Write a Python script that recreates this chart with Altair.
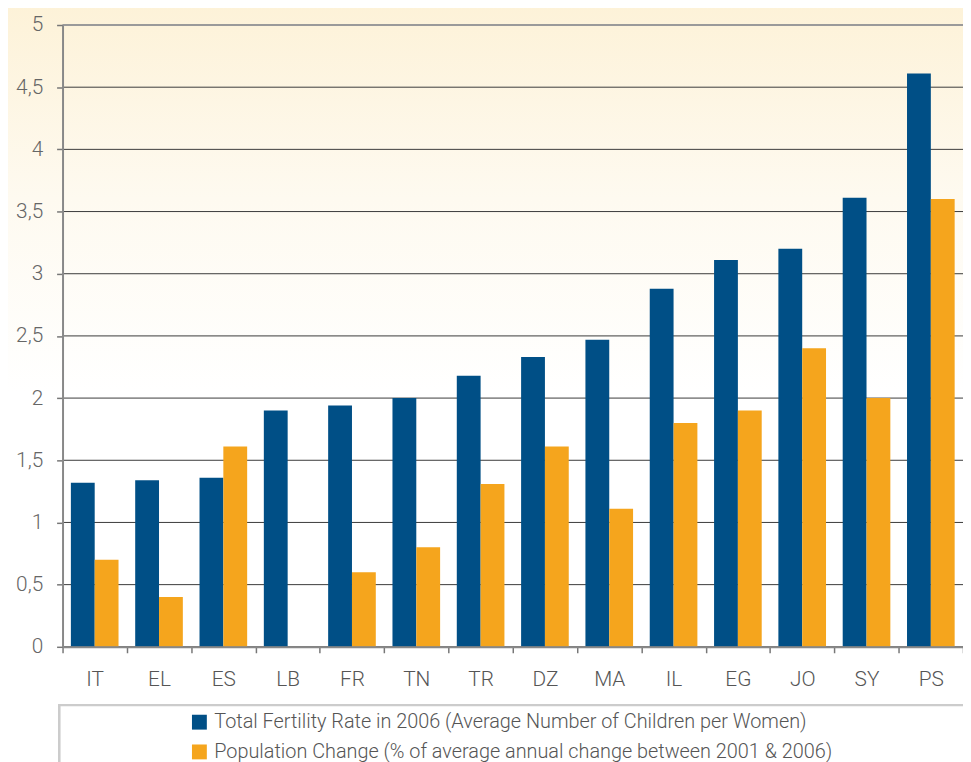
import altair as alt
import pandas as pd

countries = ["IT", "EL", "ES", "LB", "FR", "TN", "TR", "DZ", "MA", "IL", "EG", "JO", "SY", "PS"]
fertility = [1.32, 1.34, 1.36, 1.90, 1.94, 2.00, 2.18, 2.33, 2.47, 2.88, 3.11, 3.20, 3.61, 4.61]
pop_change = [0.70, 0.40, 1.61, None, 0.60, 0.80, 1.31, 1.61, 1.11, 1.80, 1.90, 2.40, 2.00, 3.60]
series = [
    "Total Fertility Rate in 2006 (Average Number of Children per Women)",
    "Population Change  (% of average annual change between 2001 & 2006)",
]
colors = ["#004f86", "#f5a51d"]
y_ticks = [0, 0.5, 1, 1.5, 2, 2.5, 3, 3.5, 4, 4.5, 5]

rows = []
for c, f, p in zip(countries, fertility, pop_change):
    rows.append({"country": c, "series": series[0], "value": f})
    if p is not None:
        rows.append({"country": c, "series": series[1], "value": p})
df = pd.DataFrame(rows)
grid_df = pd.DataFrame({"v": y_ticks})

FONT = "Roboto"
W = 300

yscale = alt.Scale(domain=[0, 5], nice=False, zero=True)

bg = alt.Chart(grid_df).mark_rect(
    fill=alt.LinearGradient(
        gradient="linear",
        stops=[alt.GradientStop(color="#fdf2d8", offset=0),
               alt.GradientStop(color="#fefaf0", offset=0.25),
               alt.GradientStop(color="#ffffff", offset=0.5)],
        x1=0, x2=0, y1=0, y2=1,
    )
).encode(
    x=alt.value(-60), x2=alt.value(1000), y=alt.value(-20), y2=alt.value(760)
)

box = alt.Chart(grid_df).mark_rect(fill="#ffffff", stroke="#cccccc", strokeWidth=2).encode(
    x=alt.value(-3), x2=alt.value(1000), y=alt.value(686), y2=alt.value(800)
)

grid = alt.Chart(grid_df).mark_rule().encode(
    y=alt.Y("v:Q", scale=yscale),
    color=alt.condition(alt.datum.v == 5, alt.value("#9a9a9a"), alt.value("#3a3a3a")),
    strokeWidth=alt.condition(alt.datum.v == 5, alt.value(2), alt.value(1)),
)

bars = alt.Chart(df).mark_bar().encode(
    x=alt.X(
        "country:N", sort=countries,
        scale=alt.Scale(paddingInner=0, paddingOuter=0),
        axis=alt.Axis(title=None, labelAngle=0, tickBand="extent", domainColor="#888888",
                      domainWidth=2, tickColor="#777777", tickSize=6, tickWidth=1.5,
                      labelFontSize=21, labelColor="#555555", labelFont=FONT,
                      labelFontWeight=W, labelPadding=16, zindex=1),
    ),
    xOffset=alt.XOffset("series:N", sort=series,
                        scale=alt.Scale(domain=series, paddingOuter=0.35, paddingInner=0)),
    y=alt.Y(
        "value:Q", scale=yscale,
        axis=alt.Axis(title=None, values=y_ticks, grid=False,
                      labelExpr="replace(toString(datum.value), '.', ',')",
                      domainColor="#888888", domainWidth=2, tickColor="#777777",
                      tickSize=6, tickWidth=1.5, labelFontSize=21, labelColor="#666666",
                      labelFont=FONT, labelFontWeight=W, labelPadding=14, zindex=1),
    ),
    color=alt.Color(
        "series:N", sort=series,
        scale=alt.Scale(domain=series, range=colors),
        legend=alt.Legend(title=None, orient="none", legendX=128, legendY=693,
                          direction="vertical", symbolType="square", symbolSize=225,
                          symbolStrokeWidth=0, symbolOpacity=1, labelFontSize=20,
                          labelFont=FONT, labelFontWeight=W, labelColor="#555555",
                          labelLimit=1200, rowPadding=10, labelOffset=5),
    ),
)

chart = alt.layer(bg, box, grid, bars).properties(
    width=908, height=627,
    autosize=alt.AutoSizeParams(type="none"),
    padding={"left": 55, "top": 14, "right": 0, "bottom": 113},
).configure_view(stroke=None)

chart.save("out.html", embed_options={"renderer": "svg", "actions": False})
